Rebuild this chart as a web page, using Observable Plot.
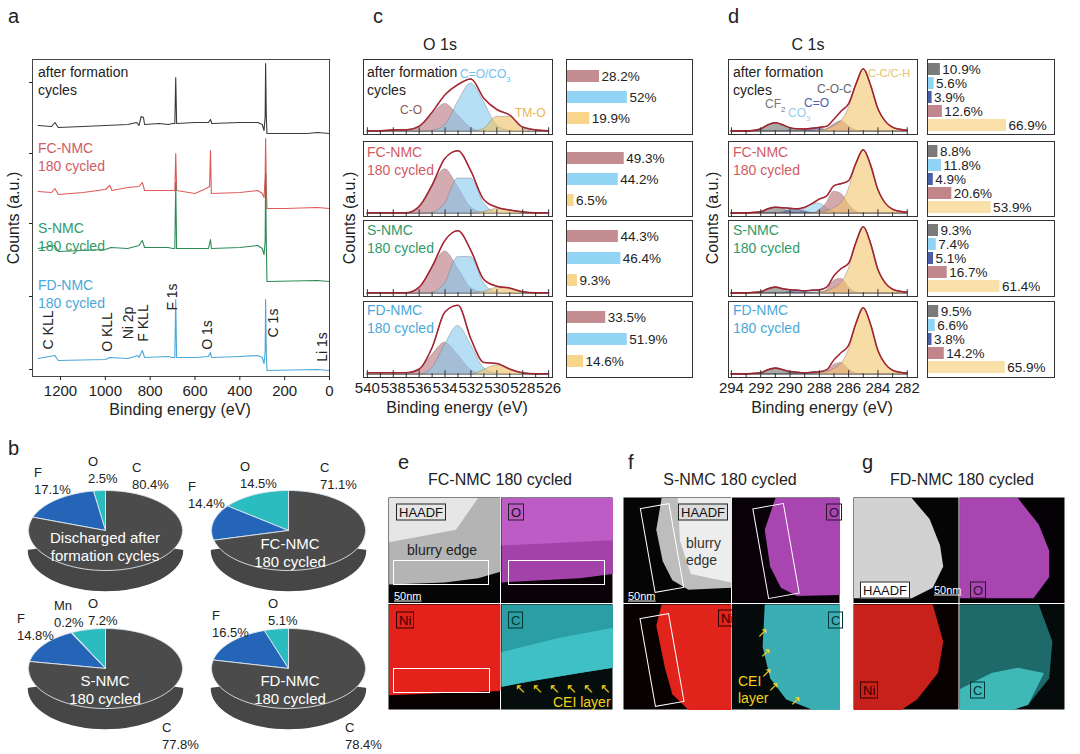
<!DOCTYPE html><html><head><meta charset="utf-8">
<script src="https://cdn.jsdelivr.net/npm/d3@7"></script>
<script src="https://cdn.jsdelivr.net/npm/@observablehq/plot@0.6"></script>
<style>
body{margin:0;background:#fff;}
#root{position:relative;width:1080px;height:754px;overflow:hidden;font-family:"Liberation Sans",Arial,sans-serif;color:#222;background:#fff;}
.p{position:absolute;line-height:0;}
.t{position:absolute;white-space:nowrap;line-height:1;}
</style></head><body><div id="root"></div><script>
// ---------- panel a: survey spectra (binding energy, counts) ----------
const surveyAfter=[[1300,251],[1240,250],[1225,254],[1210,249],[1100,250],[1000,251],[900,252],[860,254],[850,251],[840,260],[830,259],[825,252],[760,253],[720,252],[700,253],[690,253],[686,299],[682,253],[600,254],[540,254],[531,257],[525,253],[400,254],[320,254],[300,252],[292,246],[287,260],[285,313],[282,260],[279,243],[200,243],[100,243],[55,244],[0,243]];
const surveyFC=[[1300,185],[1240,184],[1225,188],[1210,182],[1100,184],[1000,187],[980,191],[970,186],[900,189],[850,190],[835,194],[825,186],[720,186],[700,186],[690,186],[686,223],[682,186],[600,183],[550,188],[535,190],[531,226],[527,183],[400,184],[320,186],[300,183],[292,179],[287,200],[285,238],[282,190],[279,168],[200,168],[55,169],[0,168]];
const surveyS=[[1300,128],[1225,131],[1210,125],[1000,127],[975,129],[900,128],[850,131],[835,136],[825,129],[720,129],[700,128],[690,128],[686,194],[682,128],[600,128],[540,128],[531,137],[527,128],[400,129],[320,131],[300,128],[292,122],[287,135],[285,203],[282,135],[279,95],[55,96],[0,95]];
const surveyFD=[[1300,18],[1225,21],[1210,16],[1000,17],[980,19],[900,18],[855,21],[850,19],[835,26],[825,19],[720,20],[700,19],[690,19],[686,77],[682,19],[600,19],[540,20],[531,24],[527,19],[400,20],[320,21],[300,19],[292,13],[287,25],[285,77],[282,25],[279,6],[55,7],[0,6]];
const surveyColors=["#3a3a3a","#e05a5a","#2e8b57","#4aa8d8"];
const surveyTicks=[1200,1000,800,600,400,200,0];

// ---------- panel c: O 1s ----------
const oEnergy=[540,539,538,537,536,535,534,533,532,531,530,529,528,527,526];
const oCO=[[0,0,0,0,4,18,30,18,4,0,0,0,0,0,0],[0,0,0,0,7,29,48,29,7,1,0,0,0,0,0],[0,0,0,0,6,27,45,27,6,1,0,0,0,0,0],[0,0,0,0,5,21,34,21,5,0,0,0,0,0,0]];
const oCdO=[[0,0,0,0,0,1,7,32,52,32,7,1,0,0,0],[0,0,0,0,0,1,11,38,38,11,1,0,0,0,0],[0,0,0,0,0,1,11,39,39,11,1,0,0,0,0],[0,0,0,0,0,7,32,52,32,7,1,0,0,0,0]];
const oTMO=[[0,0,0,0,0,0,0,0,0,3,16,16,3,0,0],[0,0,0,0,0,0,0,0,0,2,5,3,1,0,0],[0,0,0,0,0,0,0,0,0,2,6,5,1,0,0],[0,0,0,0,0,0,0,0,0,5,10,5,1,0,0]];
const oEnvelope=[[1,1,2,2,6,21,40,51,57,36,24,18,5,2,1],[1,1,1,1,8,31,60,68,46,15,7,4,2,1,1],[1,1,1,1,7,29,57,67,46,15,8,6,2,1,1],[2,2,2,2,6,29,67,74,38,13,12,6,2,1,1]];
const oColors=["#b8737b","#86c9ee","#f0c060"];
const oBarCats=["C-O","C=O/CO3","TM-O"];
const oBars=[[28.2,52,19.9],[49.3,44.2,6.5],[44.3,46.4,9.3],[33.5,51.9,14.6]];
const oBarColors=["#c48d92","#92d4f4","#f7d68c"];

// ---------- panel d: C 1s ----------
const cEnergy=[294,293.5,293,292.5,292,291.5,291,290.5,290,289.5,289,288.5,288,287.5,287,286.5,286,285.5,285,284.5,284,283.5,283,282.5,282];
const cCF2=[[0,0,0,0.5,2,6,8,6,2,0.5,0,0,0,0,0,0,0,0,0,0,0,0,0,0,0],[0,0,0,0.5,1.5,4.5,6,4.5,1.5,0.5,0,0,0,0,0,0,0,0,0,0,0,0,0,0,0],[0,0,0,0.5,1.5,4.5,6,4.5,1.5,0.5,0,0,0,0,0,0,0,0,0,0,0,0,0,0,0],[0,0,0,0.5,1.5,4.5,6,4.5,1.5,0.5,0,0,0,0,0,0,0,0,0,0,0,0,0,0,0]];
const cCO3=[[0,0,0,0,0,0,0,0,1.5,2,1.5,0,0,0,0,0,0,0,0,0,0,0,0,0,0],[0,0,0,0,0,0,0,0,0,0,4,9,9.5,5,1,0,0,0,0,0,0,0,0,0,0],[0,0,0,0,0,0,0,0,0,0,1,3,2.5,1,0,0,0,0,0,0,0,0,0,0,0],[0,0,0,0,0,0,0,0,0,0,0.5,2,1.5,0.5,0,0,0,0,0,0,0,0,0,0,0]];
const cCdO=[[0,0,0,0,0,0,0,0,0,0,1,3,3,1,0,0,0,0,0,0,0,0,0,0,0],[0,0,0,0,0,0,0,1,3.5,4,2,0.5,0,0,0,0,0,0,0,0,0,0,0,0,0],[0,0,0,0,0,0,0,0,2,3,1.5,0,0,0,0,0,0,0,0,0,0,0,0,0,0],[0,0,0,0,0,0,0,0,1.3,2,1,0,0,0,0,0,0,0,0,0,0,0,0,0,0]];
const cCOC=[[0,0,0,0,0,0,0,0,0,0,0,0,0,2,7,10,5,1,0,0,0,0,0,0,0],[0,0,0,0,0,0,0,0,0,0,0,0,3,10,21,19,9,2,0,0,0,0,0,0,0],[0,0,0,0,0,0,0,0,0,0,0,0,0,3,12,14,6,1,0,0,0,0,0,0,0],[0,0,0,0,0,0,0,0,0,0,0,0,0,2,9,11,5,1,0,0,0,0,0,0,0]];
const cCC=[[0,0,0,0,0,0,0,0,0,0,0,0,1,2,5,10,22,45,60,45,22,10,4,2,1],[0,0,0,0,0,0,0,0,0,0,0,0,1,2,5,10,23,47,62,47,23,10,4,2,1],[0,0,0,0,0,0,0,0,0,0,0,0,1,2,5,10,23,48,64,48,23,10,4,2,1],[0,0,0,0,0,0,0,0,0,0,0,0,1,2,5,10,23,48,64,48,23,10,4,2,1]];
const cEnvelope=[[0.5,0.5,0.5,1,2.5,6.5,8.5,6.5,3.5,2.5,2.5,3,4,5,12,20,27,46,61,45,22,10,4,2,1],[0.5,0.5,0.5,1,1.5,4.5,6,5.5,5,4.5,6,9.5,14,17,27,29,32,49,62,47,23,10,4,2,1],[0.5,0.5,0.5,1,1.5,4.5,6,4.5,3.5,3,2.5,3,3.5,6,17,24,29,49,64,48,23,10,4,2,1],[0.5,0.5,0.5,1,1.5,4.5,6,4.5,2.8,2,1.5,2,2.5,4.5,14,21,28,49,64,48,23,10,4,2,1]];
const cColors=["#6f6f6f","#8fd0f0","#4a5aa8","#b86f78","#f2c46a"];
const cBarCats=["CF2","CO3","C=O","C-O-C","C-C/C-H"];
const cBars=[[10.9,5.6,3.9,12.6,66.9],[8.8,11.8,4.9,20.6,53.9],[9.3,7.4,5.1,16.7,61.4],[9.5,6.6,3.8,14.2,65.9]];
const cBarColors=["#7a7a7a","#8fd3f5","#4a5fa8","#c0868c","#f8e0a8"];

// ---------- panel b: pies ----------
const pieElements=[["O","F","C"],["O","F","C"],["O","Mn","F","C"],["O","F","C"]];
const pieShares=[[2.5,17.1,80.4],[14.5,14.4,71.1],[7.2,0.2,14.8,77.8],[5.1,16.5,78.4]];
const elementColors={C:"#4b4b4b",F:"#2565b8",O:"#2bbcbf",Mn:"#e6e6e6"};

const sampleNames=["after formation<br>cycles","FC-NMC<br>180 cycled","S-NMC<br>180 cycled","FD-NMC<br>180 cycled"];
const sampleColors=["#222","#cf5b64","#2f9a6a","#4aa8d8"];

// ---------- helpers ----------
const root=document.getElementById("root");
const st={fontFamily:"Liberation Sans, Arial, sans-serif",fontSize:"14px",color:"#222",background:"transparent",overflow:"visible"};
function place(el,x,y){const d=document.createElement("div");d.className="p";d.style.left=x+"px";d.style.top=y+"px";d.appendChild(el);root.appendChild(d);return d;}
function txt(s,x,y,o={}){const d=document.createElement("div");d.className="t";d.innerHTML=s;d.style.left=x+"px";d.style.top=y+"px";d.style.fontSize=(o.size||14)+"px";d.style.color=o.color||"#222";d.style.lineHeight=o.lh||"1";let tr=o.anchor==="middle"?"translate(-50%,-50%)":"translate(0,-50%)";if(o.rot!==undefined)tr="translate(-50%,-50%) rotate("+o.rot+"deg)";d.style.transform=tr;if(o.style)Object.assign(d.style,o.style);root.appendChild(d);return d;}

// ---------- panel a ----------
const surveyRows=[surveyAfter,surveyFC,surveyS,surveyFD].flatMap((s,k)=>s.map(([e,c])=>({e,c,k})));
place(Plot.plot({width:345,height:420,marginLeft:32,marginRight:16,marginTop:59,marginBottom:44,style:st,
  x:{domain:[1325,0],axis:null},y:{domain:[0,317],axis:null},
  marks:[
    Plot.line(surveyRows,{x:"e",y:"c",z:"k",stroke:d=>surveyColors[d.k],strokeWidth:1.1}),
    Plot.frame({stroke:"#444"}),
    Plot.axisX({ticks:surveyTicks,tickSize:4,tickFormat:d=>String(d),label:null,fontSize:15}),
    Plot.axisY({ticks:[7,80,153,223,294],tickSize:3,tickFormat:()=>"",label:null})
  ]}),0,0);
txt("a",8,16,{size:20});
txt("Counts (a.u.)",14,218,{size:16,rot:-90});
txt("Binding energy (eV)",180,410,{size:16,anchor:"middle"});
[[0,81],[1,157],[2,237],[3,294]].forEach(([i,y])=>txt(sampleNames[i],38,y,{size:14,color:sampleColors[i],lh:"18px"}));
[["C KLL",48,330],["O KLL",107,332],["Ni 2p",128,323],["F KLL",143,323],["F 1s",172,297],["O 1s",207,335],["C 1s",273,323],["Li 1s",322,347]].forEach(([s,x,y])=>txt(s,x,y,{size:14,rot:-90}));

// ---------- spectra panels ----------
const rowTop=[59,141,220,301],rowH=[75,75,76,76];
function specPlot(grid,comps,colors,env,xdom,ydom,bottom,minor,major,w,h){
  const marks=[];
  comps.forEach((c,i)=>{const rows=grid.map((x,j)=>({x,y:c[j]}));
    marks.push(Plot.areaY(rows,{x:"x",y:"y",fill:colors[i],fillOpacity:0.6,stroke:"#666",strokeOpacity:0.6,strokeWidth:0.6,curve:"monotone-x",clip:true}));});
  const er=grid.map((x,j)=>({x,y:env[j]}));
  marks.push(Plot.line(er,{x:"x",y:"y",stroke:"#111",strokeWidth:0.9,curve:"monotone-x",clip:true}));
  marks.push(Plot.line(er,{x:"x",y:"y",stroke:"#b0202e",strokeWidth:1.6,strokeOpacity:0.85,curve:"monotone-x",clip:true}));
  const span=ydom[1]-ydom[0];
  marks.push(Plot.ruleX(minor,{x:d=>d,y1:ydom[0],y2:ydom[0]+span*0.05,stroke:"#333"}));
  marks.push(Plot.ruleX(major,{x:d=>d,y1:ydom[0],y2:ydom[0]+span*0.09,stroke:"#333"}));
  marks.push(Plot.frame({stroke:"#333"}));
  if(bottom) marks.push(Plot.axisX({ticks:major,tickSize:0,tickPadding:5,tickFormat:d=>String(d),label:null,fontSize:15}));
  return Plot.plot({width:w+2,height:h+2+(bottom?24:0),marginTop:1,marginLeft:1,marginRight:1,marginBottom:bottom?25:1,style:st,x:{domain:xdom,axis:null},y:{domain:ydom,axis:null},marks});
}
function barPlot(vals,cats,colors,w,h,pad){
  const rows=cats.map((c,i)=>({c,v:vals[i],col:colors[i]}));
  return Plot.plot({width:w+2,height:h+2,margin:1,style:st,x:{domain:[0,107.6],axis:null},y:{domain:cats,axis:null,padding:pad},
    marks:[Plot.barX(rows,{x:"v",y:"c",fill:"col"}),Plot.text(rows,{x:"v",y:"c",text:d=>d.v+"%",textAnchor:"start",dx:2,fontSize:13.5,fill:"#222"}),Plot.frame({stroke:"#333"})]});
}
const oMinor=[539,537,535,533,531,529,527],oMajor=[540,538,536,534,532,530,528,526];
const cMinor=[293,291,289,287,285,283],cMajor=[294,292,290,288,286,284,282];
for(let i=0;i<4;i++){
  const b=i===3;
  place(specPlot(oEnergy,[oCO[i],oCdO[i],oTMO[i]],oColors,oEnvelope[i],[540.3,525.7],[-3,78],b,oMinor,oMajor,189,rowH[i]),362,rowTop[i]-1);
  place(barPlot(oBars[i],oBarCats,oBarColors,126,rowH[i],0.45),565,rowTop[i]-1);
  place(specPlot(cEnergy,[cCF2[i],cCO3[i],cCdO[i],cCOC[i],cCC[i]],cColors,cEnvelope[i],[294.2,281.3],[-3,70],b,cMinor,cMajor,189,rowH[i]),727,rowTop[i]-1);
  place(barPlot(cBars[i],cBarCats,cBarColors,127,rowH[i],0.15),926,rowTop[i]-1);
}
txt("c",373,16,{size:20});txt("d",728,16,{size:20});
txt("O 1s",440,45,{size:16,anchor:"middle"});txt("C 1s",808,45,{size:16,anchor:"middle"});
txt("Counts (a.u.)",350,218,{size:16,rot:-90});txt("Counts (a.u.)",713,218,{size:16,rot:-90});
txt("Binding energy (eV)",457,408,{size:16,anchor:"middle"});txt("Binding energy (eV)",822,408,{size:16,anchor:"middle"});
[[0,81],[1,161],[2,239],[3,319]].forEach(([i,y])=>{txt(sampleNames[i],367,y,{size:14,color:sampleColors[i],lh:"18px"});txt(sampleNames[i],733,y,{size:14,color:sampleColors[i],lh:"18px"});});
txt("C-O",400,110,{size:12,color:"#8a5a5a"});
txt("C=O/CO<sub style='font-size:8px'>3</sub>",460,76,{size:12,color:"#6fc0ea"});
txt("TM-O",515,113,{size:12,color:"#e8b850"});
txt("CF<sub style='font-size:8px'>2</sub>",765,106,{size:12,color:"#777"});
txt("CO<sub style='font-size:8px'>3</sub>",788,115,{size:12,color:"#8fd0f0"});
txt("C=O",804,103,{size:12,color:"#5060b0"});
txt("C-O-C",817,89,{size:12,color:"#666"});
txt("C-C/C-H",868,73,{size:11,color:"#e8c060"});

// ---------- panel b ----------
const pieCenters=[[105,110],[288,110],[105,248],[288,248]];
const RX=77,RY=40,TH=20;
const pieMarks=[];
pieShares.forEach((shares,p)=>{
  const [cx,cy]=pieCenters[p];
  const side=[[cx-RX,cy]];
  for(let a=180;a>=0;a-=5){const r=a*Math.PI/180;side.push([cx-RX*Math.cos(r),cy+TH+RY*Math.sin(r)]);}
  side.push([cx+RX,cy]);
  pieMarks.push(Plot.line(side,{x:d=>d[0],y:d=>d[1],fill:"#464646",stroke:"#464646"}));
  let acc=0;
  shares.forEach((s,k)=>{
    const a0=acc/100*2*Math.PI,a1=(acc+s)/100*2*Math.PI;acc+=s;
    const pts=[[cx,cy]];const n=Math.max(2,Math.ceil((a1-a0)/0.05));
    for(let j=0;j<=n;j++){const a=a0+(a1-a0)*j/n;pts.push([cx-RX*Math.sin(a),cy-RY*Math.cos(a)]);}
    pts.push([cx,cy]);
    pieMarks.push(Plot.line(pts,{x:d=>d[0],y:d=>d[1],fill:elementColors[pieElements[p][k]],stroke:"#dfe8f0",strokeWidth:0.9}));
  });
});
place(Plot.plot({width:380,height:334,margin:0,style:st,x:{domain:[0,380],axis:null},y:{domain:[0,334],reverse:true,axis:null},marks:pieMarks}),0,420);
txt("b",8,448,{size:20});
const pieLabelPos=[[[88,470],[34,481],[132,476]],[[240,475],[188,495],[320,476]],[[88,612],[54,614],[17,627],[162,736]],[[268,612],[212,624],[345,736]]];
pieShares.forEach((shares,p)=>shares.forEach((s,k)=>{const [x,y]=pieLabelPos[p][k];txt(pieElements[p][k]+"<br>"+s+"%",x,y,{size:13,lh:"17px"});}));
[["Discharged after<br>formation cycles",105,547],["FC-NMC<br>180 cycled",290,553],["S-NMC<br>180 cycled",105,690],["FD-NMC<br>180 cycled",290,690]].forEach(([s,x,y])=>txt(s,x,y,{size:15,color:"#fff",anchor:"middle",lh:"18px",style:{textAlign:"center"}}));

// ---------- panels e,f,g: elemental maps (drawn as coloured regions) ----------
const mapTiles=[
 [{bg:"#050505",shapes:[[[0,0],[1,0],[1,0.7],[0.8,0.76],[0.5,0.8],[0,0.82]],[[0,0],[0.8,0],[0.6,0.3],[0,0.42]]],fills:["#b4b4b4","#e6e6e6"]},
  {bg:"#0a0208",shapes:[[[0,0],[1,0],[1,0.72],[0.7,0.76],[0,0.8]],[[0,0],[1,0],[1,0.4],[0,0.45]]],fills:["#a343aa","#bd5cc4"]},
  {bg:"#080101",shapes:[[[0,0],[1,0],[1,0.82],[0.5,0.84],[0,0.86]]],fills:["#e3221b"]},
  {bg:"#050d0d",shapes:[[[0,0],[1,0],[1,0.6],[0.7,0.65],[0.3,0.72],[0,0.78]],[[0,0.45],[0.5,0.32],[1,0.22],[1,0.6],[0.7,0.65],[0.3,0.72],[0,0.78]]],fills:["#2a9ea2","#3fc0c4"]}],
 [{bg:"#050505",shapes:[[[0.35,0],[1,0],[1,0.85],[0.6,0.87],[0.45,0.78],[0.36,0.6],[0.3,0.3]],[[0.5,0],[1,0],[1,0.8],[0.62,0.72],[0.52,0.4]]],fills:["#bdbdbd","#ededed"]},
  {bg:"#080208",shapes:[[[0.4,0],[1,0],[1,0.92],[0.6,0.93],[0.45,0.85],[0.35,0.65],[0.3,0.3]]],fills:["#a845b0"]},
  {bg:"#070101",shapes:[[[0.35,0],[1,0],[1,1],[0.6,1],[0.45,0.85],[0.38,0.6],[0.3,0.2]]],fills:["#e0231b"]},
  {bg:"#050a0a",shapes:[[[0.3,0],[1,0],[1,1],[0.75,1],[0.5,0.9],[0.35,0.7],[0.28,0.4]]],fills:["#3aaeb2"]}],
 [{bg:"#050505",shapes:[[[0,0],[0.55,0],[0.72,0.2],[0.82,0.45],[0.85,0.65],[0.75,0.85],[0.55,0.95],[0,0.95]]],fills:["#d2d2d2"]},
  {bg:"#050205",shapes:[[[0,0],[0.55,0],[0.75,0.25],[0.85,0.5],[0.85,0.75],[0.7,0.95],[0,0.95]]],fills:["#a845b0"]},
  {bg:"#070101",shapes:[[[0,0],[0.75,0],[0.85,0.35],[0.8,0.65],[0.6,0.9],[0.45,1],[0,1]]],fills:["#c8201b"]},
  {bg:"#050a0a",shapes:[[[0,0],[0.75,0],[0.88,0.35],[0.85,0.7],[0.65,0.95],[0.5,1],[0,1]],[[0,0.8],[0.3,0.65],[0.55,0.6],[0.8,0.65],[0.65,0.95],[0.5,1],[0,1]]],fills:["#1e6a6a","#3fb8b8"]}]
];
const mapBoxes=[[388,497,225,213],[623,497,217,213],[853,497,212,213]];
mapTiles.forEach((tiles,pi)=>{
  const [X,Y,W,H]=mapBoxes[pi];const marks=[];
  tiles.forEach((t,q)=>{const ox=q%2,oy=Math.floor(q/2);
    marks.push(Plot.rect([0],{x1:ox,x2:ox+1,y1:oy,y2:oy+1,fill:t.bg,inset:0.5}));
    t.shapes.forEach((s,k)=>marks.push(Plot.line(s.concat([s[0]]).map(([a,b])=>[ox+a*0.99+0.005,oy+b*0.99+0.005]),{x:d=>d[0],y:d=>d[1],fill:t.fills[k],stroke:"none"})));
  });
  place(Plot.plot({width:W,height:H,margin:0,style:st,x:{domain:[0,2],axis:null},y:{domain:[0,2],reverse:true,axis:null},marks}),X,Y);
});
txt("e",398,462,{size:20});txt("f",628,462,{size:20});txt("g",862,462,{size:20});
txt("FC-NMC 180 cycled",500,480,{size:16,anchor:"middle"});
txt("S-NMC 180 cycled",730,480,{size:16,anchor:"middle"});
txt("FD-NMC 180 cycled",962,480,{size:16,anchor:"middle"});
const box=(s,x,y,c,bc,bg)=>txt(s,x,y,{size:13,color:c,style:{border:"1px solid "+bc,padding:"1px 2px",background:bg||"transparent"}});
box("HAADF",396,512,"#111","#222","#e6e6e6");box("O",508,512,"#111","#222");box("Ni",396,620,"#300","#300");box("C",508,620,"#033","#033");
box("HAADF",678,512,"#111","#222","#dcdcdc");box("O",826,512,"#301030","#301030");box("Ni",718,618,"#300","#300");box("C",828,620,"#033","#033");
box("HAADF",860,590,"#111","#222","#fff");box("O",970,590,"#301030","#301030");box("Ni",860,690,"#300","#300");box("C",970,690,"#033","#033");
txt("blurry edge",407,550,{size:14,color:"#222"});
txt("blurry<br>edge",686,552,{size:14,color:"#333",lh:"17px"});
txt("<u>50nm</u>",394,596,{size:11,color:"#fff"});txt("<u>50nm</u>",628,596,{size:11,color:"#fff"});txt("<u>50nm</u>",934,590,{size:11,color:"#fff"});
const rectDiv=(x,y,w,h,rot)=>{const d=document.createElement("div");Object.assign(d.style,{position:"absolute",left:x+"px",top:y+"px",width:w+"px",height:h+"px",border:"1.5px solid #fff",transform:"rotate("+rot+"deg)"});root.appendChild(d);};
rectDiv(393,560,94,23,0);rectDiv(508,560,95,23,0);rectDiv(393,668,95,23,0);
rectDiv(647,505,28,84,-10);rectDiv(760,505,30,90,-10);rectDiv(647,615,28,88,-10);
txt("CEI layer",553,702,{size:14,color:"#f2d21b"});
[515,532,549,566,583,600].forEach(x=>txt("↖",x,688,{size:13,color:"#f2d21b"}));
txt("CEI<br>layer",738,690,{size:14,color:"#f2d21b",lh:"17px"});
[[757,632],[760,652],[761,672],[768,686],[790,700]].forEach(([x,y])=>txt("↗",x,y,{size:13,color:"#f2d21b"}));
</script></body></html>
